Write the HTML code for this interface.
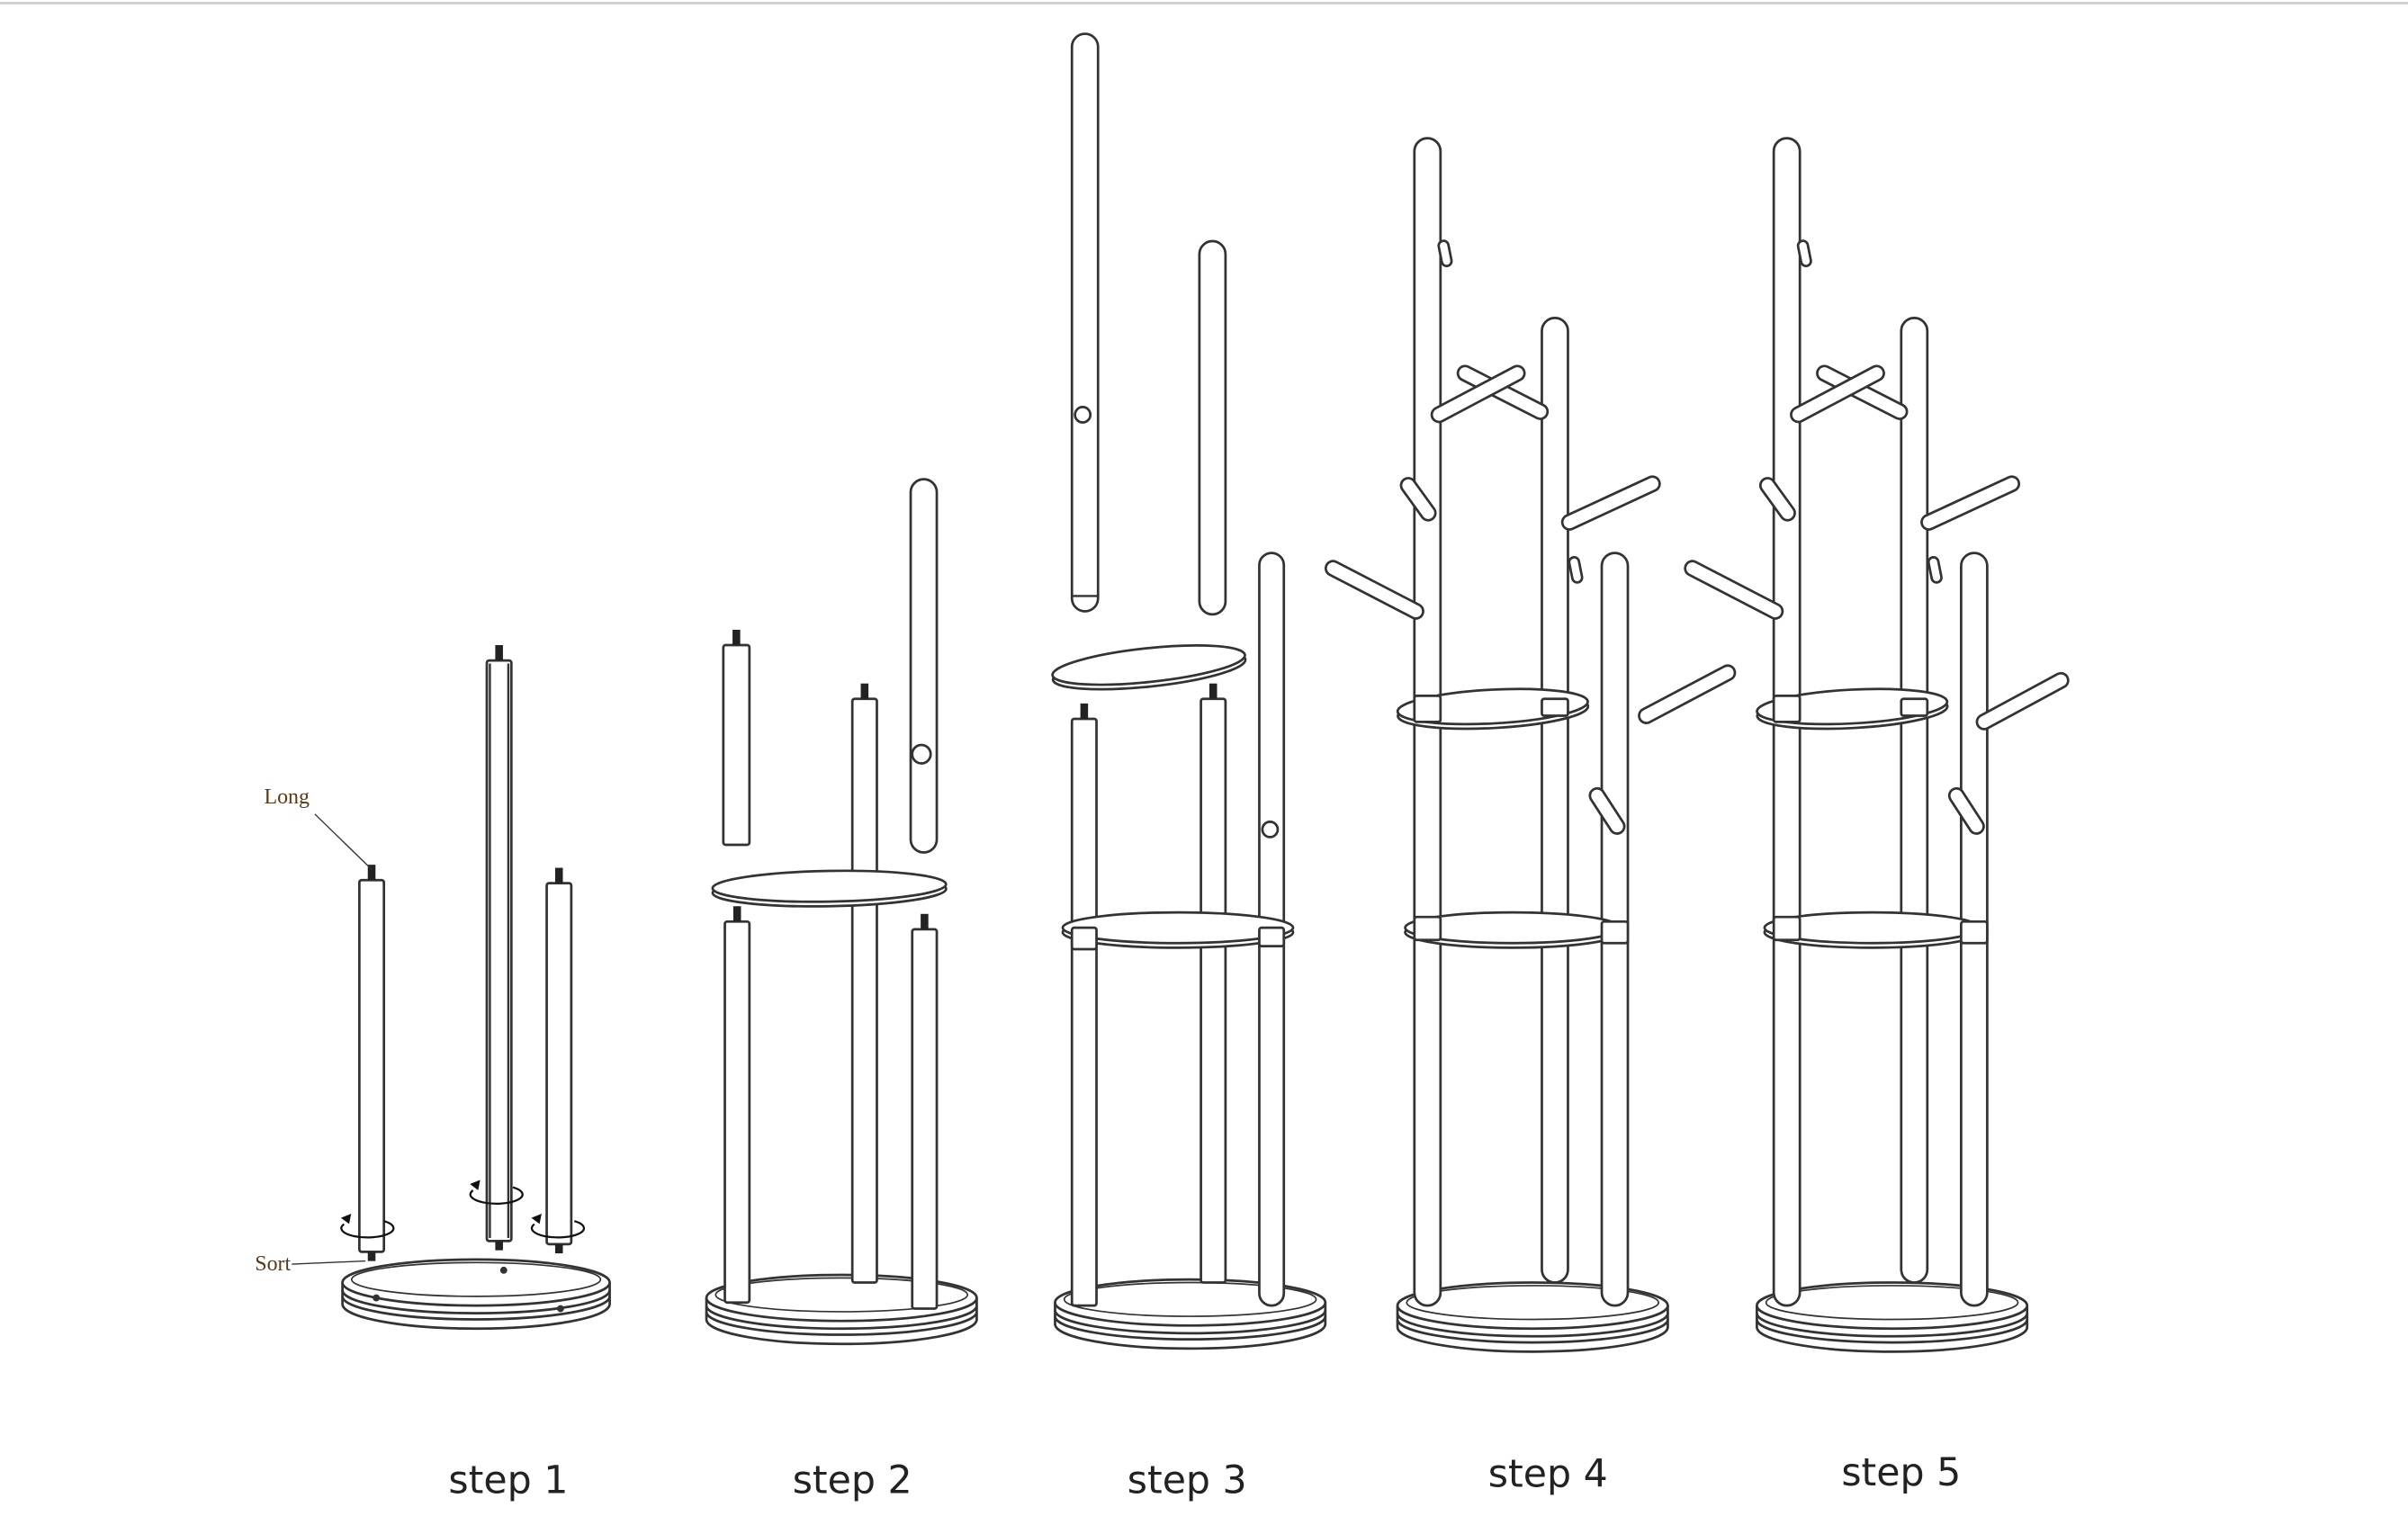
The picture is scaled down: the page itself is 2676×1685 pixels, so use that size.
<!DOCTYPE html>
<html><head><meta charset="utf-8">
<style>
html,body{margin:0;padding:0;background:#fff;width:2676px;height:1685px;overflow:hidden}
svg{display:block}
</style></head><body>
<svg id="s" width="2676" height="1685" viewBox="0 0 1568 987" preserveAspectRatio="none" xmlns="http://www.w3.org/2000/svg">
<rect x="0" y="0" width="1568" height="987" fill="#fff"/>
<line x1="0" y1="2" x2="1568" y2="2" stroke="#ccc" stroke-width="1.5"/>
<g id="g" fill="#fff" stroke="#333" stroke-width="1.6"></g>
<line x1="205" y1="530" x2="242" y2="566" stroke="#333" stroke-width="0.8"/>
<line x1="190" y1="823" x2="238" y2="821" stroke="#333" stroke-width="0.8"/>
<text x="172" y="523" font-family="Liberation Serif, serif" font-size="14" fill="#5a3a1a">Long</text>
<text x="166" y="827" font-family="Liberation Serif, serif" font-size="14" fill="#5a3a1a">Sort</text>
<g font-family="DejaVu Sans, Liberation Sans, sans-serif" font-size="25" fill="#222" text-anchor="middle">
<text x="331" y="972">step 1</text>
<text x="555" y="972">step 2</text>
<text x="773" y="972">step 3</text>
<text x="1008" y="968">step 4</text>
<text x="1238" y="967">step 5</text>
</g>
</svg>
<script>
var g=document.getElementById('g'),h='';
function pole(x,y1,y2,w,round,stud,botstud){w=w||16;
 var r=round?w/2:1.5;
 h+='<rect x="'+x+'" y="'+y1+'" width="'+w+'" height="'+(y2-y1)+'" rx="'+r+'" ry="'+r+'"/>';
 if(stud){h+='<rect x="'+(x+w/2-2.5)+'" y="'+(y1-10)+'" width="5" height="10" fill="#222" stroke="none"/>';}
 if(botstud){h+='<rect x="'+(x+w/2-2.5)+'" y="'+y2+'" width="5" height="6" fill="#222" stroke="none"/>';}
}
function base(cx,cy,rx){
 h+='<path d="M'+(cx-rx)+' '+cy+' L'+(cx-rx)+' '+(cy+14)+' A'+rx+' 16 0 0 0 '+(cx+rx)+' '+(cy+14)+' L'+(cx+rx)+' '+cy+'"/>';
 h+='<path d="M'+(cx-rx)+' '+(cy+5)+' A'+rx+' 15 0 0 0 '+(cx+rx)+' '+(cy+5)+'" fill="none"/>';
 h+='<path d="M'+(cx-rx)+' '+(cy+9)+' A'+rx+' 15 0 0 0 '+(cx+rx)+' '+(cy+9)+'" fill="none"/>';
 h+='<ellipse cx="'+cx+'" cy="'+cy+'" rx="'+rx+'" ry="15"/>';
 h+='<ellipse cx="'+cx+'" cy="'+(cy-2)+'" rx="'+(rx-6)+'" ry="11" fill="none" stroke-width="1"/>';
}
function shelf(cx,cy,rx,ry,rot){
 h+='<g transform="rotate('+(rot||0)+' '+cx+' '+cy+')"><ellipse cx="'+cx+'" cy="'+(cy+3)+'" rx="'+rx+'" ry="'+ry+'"/><ellipse cx="'+cx+'" cy="'+cy+'" rx="'+rx+'" ry="'+ry+'"/></g>';
}
function arm(x1,y1,x2,y2,w){w=w||11;
 h+='<line x1="'+x1+'" y1="'+y1+'" x2="'+x2+'" y2="'+y2+'" stroke="#333" stroke-width="'+w+'" stroke-linecap="round"/>';
 h+='<line x1="'+x1+'" y1="'+y1+'" x2="'+x2+'" y2="'+y2+'" stroke="#fff" stroke-width="'+(w-3.2)+'" stroke-linecap="round"/>';
}
function rot(cx,cy){h+='<path d="M'+(cx-14)+' '+(cy-6)+' A17 6 0 1 0 '+(cx+12)+' '+(cy-8)+'" fill="none" stroke="#111" stroke-width="1.3"/><path d="M'+(cx-10)+' '+(cy-12)+' l-5 2 l4 3 z" fill="#111" stroke="#111" stroke-width="1"/>';}
// step1
base(310,835,87);
pole(234,573,815,16,false,true,true);
pole(317,430,808,16,false,true,true);
h+='<line x1="319" y1="432" x2="319" y2="806" stroke="#333" stroke-width="1.4"/><line x1="331" y1="432" x2="331" y2="806" stroke="#333" stroke-width="1.4"/>';
pole(356,575,810,16,false,true,true);
rot(238,803);rot(322,781);rot(362,803);
h+='<circle cx="328" cy="827" r="1.5" fill="#333"/><circle cx="245" cy="845" r="1.5" fill="#333"/><circle cx="365" cy="852" r="1.5" fill="#333"/>';
// step2
base(548,845,88);
pole(555,455,835,16,false,true);
pole(472,600,848,16,false,true);
pole(594,605,852,16,false,true);
shelf(540,577,76,10,-1);
pole(471,420,550,17,false,true);
pole(593,312,555,17,true);
h+='<circle cx="600" cy="491" r="6"/>';
// step3
base(775,848,88);
pole(782,455,835,16,false,true);
pole(698,468,850,16,false,true);
pole(820,360,850,16,true);
shelf(767,604,75,10,0);
pole(698,604,618,16);pole(820,604,616,16);
shelf(748,433,63,11,-6);
pole(698,22,398,17,true);
h+='<line x1="698" y1="388" x2="715" y2="388" stroke="#333" stroke-width="1.4"/><circle cx="705" cy="270" r="5"/>';
pole(781,157,400,17,true);
h+='<circle cx="827" cy="540" r="5"/>';
// step 4 & 5
function tree(dx,s5){
 base(998+dx,850,88);
 pole(1004+dx,207,835,17,true);
 pole(921+dx,90,850,17,true);
 pole(1043+dx,360,850,17,true);
 shelf(985+dx,604,70,10,0);
 pole(921+dx,597,612,17);pole(1043+dx,600,614,17);
 shelf(972+dx,460,62,11,-3);
 pole(921+dx,453,470,17);pole(1004+dx,455,466,17);
 arm(868+dx,370,922+dx,398);
 arm(954+dx,243,1003+dx,268);
 arm(937+dx,270,988+dx,243);
 arm(917+dx,316,930+dx,334);
 arm(1022+dx,340,1076+dx,315);
 arm(1040+dx,518,1053+dx,538);
 arm(940+dx,160,942+dx,170,8);
 arm(1025+dx,366,1027+dx,376,8);
 if(!s5) arm(1072+dx,466,1125+dx,438); else arm(1292+0,470,1342,443);
}
tree(0,false);tree(234,true);
g.innerHTML=h;
</script>
</body></html>
